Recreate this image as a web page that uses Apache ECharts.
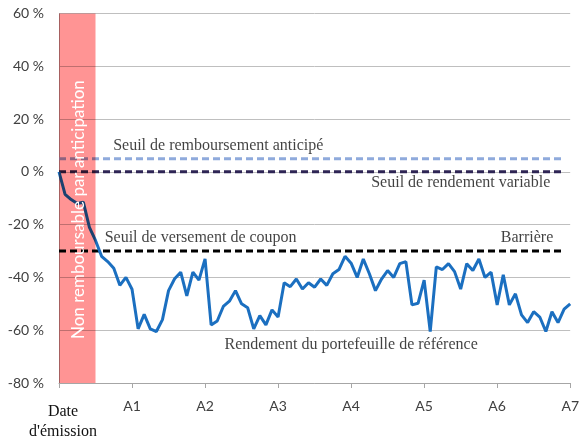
<!DOCTYPE html>
<html>
<head>
<meta charset="utf-8">
<script src="https://cdn.jsdelivr.net/npm/echarts@6/dist/echarts.min.js"></script>
<style>
  html, body { margin: 0; padding: 0; background: #fff; }
  #chart { width: 582px; height: 443px; }
</style>
</head>
<body>
<div id="chart"></div>
<script>
// monthly returns of the reference portfolio (%), month 0 = issue date
const portfolio = [
    0, -8.5, -10.5, -12, -11.5, -21, -26, -32, -34, -36.5,
    -43, -40, -44.5, -59.5, -54, -59.5, -60.5, -56, -45, -40.5,
    -38, -47, -38, -41, -33, -58, -56.5, -51, -49, -45,
    -50, -51.5, -59.5, -54.5, -58, -52.3, -55, -42, -43.5, -40.6,
    -44.4, -42, -43.7, -40.6, -43, -38.6, -37, -32, -34.6, -40,
    -33, -38.6, -45, -40.6, -37.4, -40, -34.8, -34, -50.4, -49.8,
    -41, -60.5, -36, -37, -34.8, -37.8, -44.4, -34.8, -37.4, -33,
    -40, -38, -50.4, -39, -50.4, -46.2, -54.2, -57.1, -53, -55,
    -60.5, -53, -57.1, -52, -50
];
const xLabels = ["Date\nd'émission", 'A1', 'A2', 'A3', 'A4', 'A5', 'A6', 'A7'];

// thresholds (%)
const seuilRemboursement = 5;
const seuilRendement = 0;
const barriere = -30;
const thresholdEnd = 83;

// non-callable period, in months
const bandStart = 0;
const bandEnd = 6;
const bandLabel = 'Non remboursable par anticipation';
const bandLabelY = -14.3;

// text annotations: [month, value, text]
const annotations = [
    [8.9, 10, 'Seuil de remboursement anticipé'],
    [51.3, -4, 'Seuil de rendement variable'],
    [7.5, -25.1, 'Seuil de versement de coupon'],
    [72.6, -25.1, 'Barrière'],
    [27.2, -65.5, 'Rendement du portefeuille de référence']
];

const chart = echarts.init(document.getElementById('chart'));

function flatLine(v) {
    return [[0, v], [thresholdEnd, v]];
}

const option = {
    animation: false,
    grid: { left: 59, right: 11, top: 13.5, bottom: 60, containLabel: false },
    xAxis: {
        type: 'value',
        min: 0,
        max: 84,
        interval: 12,
        axisLine: { onZero: false, lineStyle: { color: '#A6A6A6', width: 1 } },
        axisTick: { show: true, length: 5, lineStyle: { color: '#A6A6A6' } },
        splitLine: { show: false },
        axisLabel: {
            margin: 16,
            color: '#404040',
            fontFamily: 'Lato',
            fontSize: 14,
            formatter: function (v) {
                const s = xLabels[Math.round(v / 12)];
                if (v === 0) return '{d|' + s + '}';
                return s;
            },
            rich: {
                d: {
                    fontFamily: 'Liberation Serif',
                    fontSize: 16,
                    lineHeight: 20,
                    color: '#111111',
                    align: 'center',
                    padding: [5, 0, 0, 8]
                }
            }
        }
    },
    yAxis: {
        type: 'value',
        min: -80,
        max: 60,
        interval: 20,
        axisLine: { show: true, lineStyle: { color: '#A6A6A6', width: 1 } },
        axisTick: { show: false },
        splitLine: { lineStyle: { color: '#BFBFBF', width: 1 } },
        axisLabel: {
            margin: 15,
            color: '#404040',
            fontFamily: 'Lato',
            fontSize: 14,
            formatter: '{value} %'
        }
    },
    series: [
        {
            type: 'line',
            data: flatLine(seuilRemboursement),
            symbol: 'none',
            lineStyle: { color: '#8FAADC', width: 3, type: [7, 4] },
            z: 2
        },
        {
            type: 'line',
            data: flatLine(seuilRendement),
            symbol: 'none',
            lineStyle: { color: '#2E2554', width: 3, type: [7, 4] },
            z: 2
        },
        {
            type: 'line',
            data: flatLine(barriere),
            symbol: 'none',
            lineStyle: { color: '#000000', width: 3, type: [7, 4] },
            z: 2
        },
        {
            type: 'line',
            data: portfolio.map((v, i) => [i, v]),
            symbol: 'none',
            lineStyle: { color: '#1B6FC0', width: 3 },
            z: 3
        },
        {
            type: 'custom',
            blendMode: 'multiply',
            data: [[bandStart, bandEnd]],
            z: 4,
            renderItem: function (params, api) {
                const p1 = api.coord([api.value(0), 60]);
                const p2 = api.coord([api.value(1), -80]);
                return {
                    type: 'rect',
                    shape: { x: p1[0], y: p1[1], width: p2[0] - p1[0], height: p2[1] - p1[1] },
                    style: { fill: '#FF9494' }
                };
            }
        },
        {
            type: 'custom',
            data: [[(bandStart + bandEnd) / 2, bandLabelY]],
            z: 5,
            renderItem: function (params, api) {
                const p = api.coord([api.value(0), api.value(1)]);
                return {
                    type: 'text',
                    x: p[0] + 1,
                    y: p[1],
                    rotation: Math.PI / 2,
                    style: {
                        text: bandLabel,
                        fill: '#ffffff',
                        font: '17px Lato',
                        align: 'center',
                        verticalAlign: 'middle'
                    }
                };
            }
        },
        {
            type: 'scatter',
            data: annotations.map(a => [a[0], a[1], a[2]]),
            symbolSize: 0,
            z: 6,
            label: {
                show: true,
                position: 'right',
                distance: 0,
                formatter: p => p.data[2],
                fontFamily: 'Liberation Serif',
                fontSize: 16,
                color: '#111111'
            }
        }
    ]
};

chart.setOption(option);
</script>
</body>
</html>
